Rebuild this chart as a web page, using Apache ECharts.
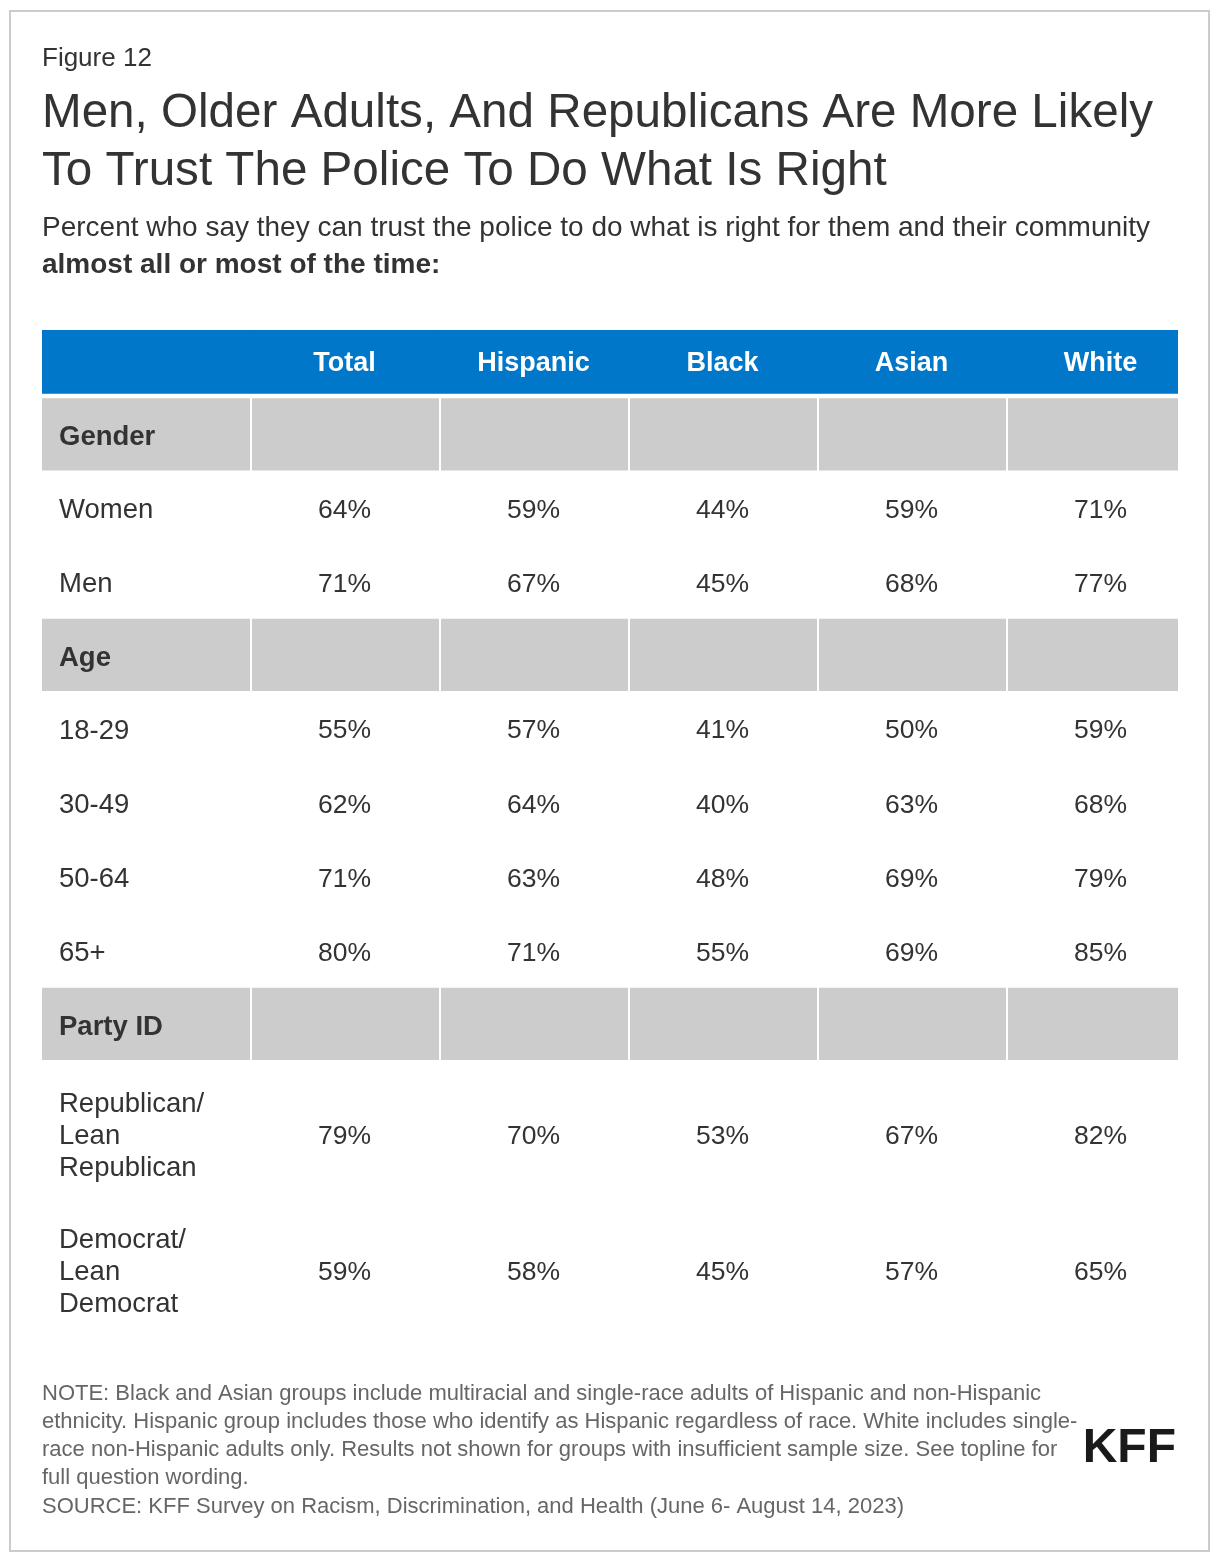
<!DOCTYPE html>
<html>
<head>
<meta charset="utf-8">
<script src="https://cdn.jsdelivr.net/npm/echarts@6/dist/echarts.min.js"></script>
<style>
  html, body { margin: 0; padding: 0; background: #fff; }
  #chart { width: 1220px; height: 1562px; }
</style>
</head>
<body>
<div id="chart"></div>
<script>
// ---- data ----
const columns = ['Total', 'Hispanic', 'Black', 'Asian', 'White'];
const rowLabels = ['Gender', 'Women', 'Men', 'Age', '18-29', '30-49', '50-64', '65+', 'Party ID',
  'Republican/\nLean\nRepublican', 'Democrat/\nLean\nDemocrat'];
const groupRows = ['Gender', 'Age', 'Party ID'];
const totalVals    = [null, 64, 71, null, 55, 62, 71, 80, null, 79, 59];
const hispanicVals = [null, 59, 67, null, 57, 64, 63, 71, null, 70, 58];
const blackVals    = [null, 44, 45, null, 41, 40, 48, 55, null, 53, 45];
const asianVals    = [null, 59, 68, null, 50, 63, 69, 69, null, 67, 57];
const whiteVals    = [null, 71, 77, null, 59, 68, 79, 85, null, 82, 65];
const valueCols = [totalVals, hispanicVals, blackVals, asianVals, whiteVals];

// ---- layout helpers (rows in "row units") ----
const FONT = '"Liberation Sans", Arial, Helvetica, sans-serif';
const PX_PER_UNIT = 74.2;
const HEAD_SPAN = 0.86, HEAD_GAP = 0.06, GROUP_SPAN = 0.973, MULTI_SPAN = 1.84;
const X_MIN = -1.1005, X_MAX = 4.91;
const TY = 3; // text vertical nudge

const rowSpans = [];
let acc = 0;
rowSpans.push({ y0: 0, y1: HEAD_SPAN, kind: 'head' });
acc = HEAD_SPAN + HEAD_GAP;
rowLabels.forEach(function (lab) {
  const isGroup = groupRows.indexOf(lab) >= 0;
  const lines = lab.split('\n').length;
  const span = isGroup ? GROUP_SPAN : (lines > 1 ? MULTI_SPAN : 1);
  rowSpans.push({ y0: acc, y1: acc + span, kind: isGroup ? 'group' : 'item', label: lab, lines: lines });
  acc += span;
});
const Y_MAX = acc;

const cells = [];
for (let r = 0; r < rowSpans.length; r++) {
  for (let c = 0; c <= columns.length; c++) {
    cells.push([c, r]);
  }
}

function renderCell(params, api) {
  const c = api.value(0), r = api.value(1);
  const row = rowSpans[r];
  const cs = params.coordSys;
  const gridRight = cs.x + cs.width;
  const xa = c === 0 ? X_MIN : c - 1;
  const xb = c === 0 ? 0 : c;
  const p0 = api.coord([xa, row.y0]);
  const p1 = api.coord([xb, row.y1]);
  const left = p0[0], rightRaw = p1[0];
  const right = Math.min(rightRaw, gridRight);
  const top = p0[1], bottom = p1[1];
  let midY = (top + bottom) / 2 + TY;
  if (row.lines > 1) midY += 5;
  const children = [];

  if (row.kind === 'head') {
    children.push({ type: 'rect', shape: { x: left, y: top, width: right - left, height: bottom - top },
      style: { fill: '#0077C8' } });
    if (c > 0) {
      children.push({ type: 'text', style: { text: columns[c - 1], x: (left + rightRaw) / 2, y: midY - 1,
        textAlign: 'center', textVerticalAlign: 'middle', fill: '#ffffff',
        font: 'bold 27px ' + FONT } });
    }
  } else if (row.kind === 'group') {
    const gl = c === 0 ? left : left + 2;
    children.push({ type: 'rect', shape: { x: gl, y: top, width: right - gl, height: bottom - top },
      style: { fill: '#CCCCCC' } });
    if (c === 0) {
      children.push({ type: 'text', style: { text: row.label, x: left + 17, y: midY,
        textAlign: 'left', textVerticalAlign: 'middle', fill: '#333333',
        font: 'bold 27.5px ' + FONT } });
    }
  } else {
    if (c === 0) {
      children.push({ type: 'text', style: { text: row.label, x: left + 17, y: midY,
        textAlign: 'left', textVerticalAlign: 'middle', fill: '#333333', lineHeight: 32,
        font: '27.5px ' + FONT } });
    } else {
      const v = valueCols[c - 1][r - 1];
      if (v != null) {
        children.push({ type: 'text', style: { text: v + '%', x: (left + rightRaw) / 2, y: midY,
          textAlign: 'center', textVerticalAlign: 'middle', fill: '#333333',
          font: '26.5px ' + FONT } });
      }
    }
  }
  return { type: 'group', children: children };
}

const chart = echarts.init(document.getElementById('chart'), null, { renderer: 'canvas' });

const noteLines = [
  'NOTE: Black and Asian groups include multiracial and single-race adults of Hispanic and non-Hispanic',
  'ethnicity. Hispanic group includes those who identify as Hispanic regardless of race. White includes single-',
  'race non-Hispanic adults only. Results not shown for groups with insufficient sample size. See topline for',
  'full question wording.',
  'SOURCE: KFF Survey on Racism, Discrimination, and Health (June 6- August 14, 2023)'
];
const noteY = [1394, 1422, 1450, 1478, 1507];

const graphics = [
  { type: 'rect', shape: { x: 10, y: 11, width: 1199, height: 1540 },
    style: { fill: 'none', stroke: '#CCCCCC', lineWidth: 2 }, silent: true, z: -1 },
  { type: 'text', style: { text: 'Figure 12', x: 42, y: 59, textVerticalAlign: 'middle',
    fill: '#333333', font: '26px ' + FONT } },
  { type: 'text', style: { text: 'Men, Older Adults, And Republicans Are More Likely', x: 42, y: 114,
    textVerticalAlign: 'middle', fill: '#333333', font: '47.6px ' + FONT } },
  { type: 'text', style: { text: 'To Trust The Police To Do What Is Right', x: 42, y: 172,
    textVerticalAlign: 'middle', fill: '#333333', font: '47.6px ' + FONT } },
  { type: 'text', style: { text: 'Percent who say they can trust the police to do what is right for them and their community',
    x: 42, y: 228, textVerticalAlign: 'middle', fill: '#333333', font: '28px ' + FONT } },
  { type: 'text', style: { text: 'almost all or most of the time:', x: 42, y: 265,
    textVerticalAlign: 'middle', fill: '#333333', font: 'bold 28px ' + FONT } },
  { type: 'text', style: { text: 'KFF', x: 1176, y: 1449, textAlign: 'right', textVerticalAlign: 'middle',
    fill: '#1a1a1a', font: 'bold 48px ' + FONT } }
];
noteLines.forEach(function (t, i) {
  graphics.push({ type: 'text', style: { text: t, x: 42, y: noteY[i], textVerticalAlign: 'middle',
    fill: '#666666', font: '22px ' + FONT } });
});

chart.setOption({
  animation: false,
  backgroundColor: '#ffffff',
  grid: { left: 42, top: 330, width: 1136, height: Y_MAX * PX_PER_UNIT },
  xAxis: { type: 'value', min: X_MIN, max: X_MAX, show: false },
  yAxis: { type: 'value', min: 0, max: Y_MAX, inverse: true, show: false },
  graphic: graphics,
  series: [{
    type: 'custom',
    renderItem: renderCell,
    encode: { x: 0, y: 1 },
    data: cells,
    silent: true
  }]
});
</script>
</body>
</html>
